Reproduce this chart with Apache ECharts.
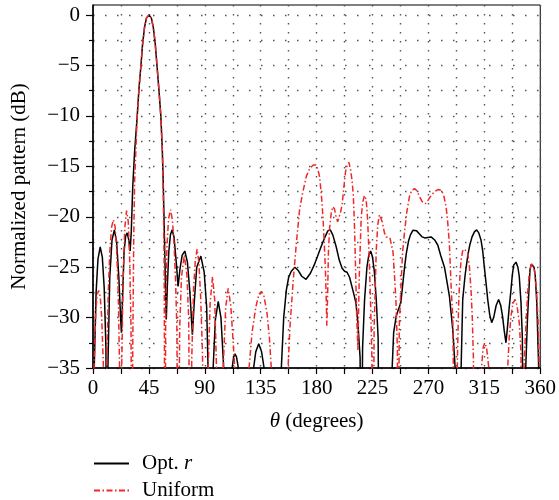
<!DOCTYPE html>
<html><head><meta charset="utf-8">
<script src="https://cdn.jsdelivr.net/npm/echarts@6/dist/echarts.min.js"></script>
<style>html,body{margin:0;padding:0;background:#fff}#c{width:559px;height:500px}</style>
</head><body><div id="c"></div>
<script>
// Tick positions / labels
const xTicks = [0, 45, 90, 135, 180, 225, 270, 315, 360];
const xGrid = [0, 22.5, 45, 67.5, 90, 112.5, 135, 157.5, 180, 202.5, 225, 247.5, 270, 292.5, 315, 337.5, 360];
const yTicks = [0, -5, -10, -15, -20, -25, -30, -35];
const yMinor = [-2.5, -7.5, -12.5, -17.5, -22.5, -27.5, -32.5];

const seriesNames = ['Opt. r', 'Uniform'];

// Opt. r pattern (theta in degrees, normalized dB)
const optTheta = [0,1.0,2.5,4,5.8,7.5,9,10.4,11.2,12.0,13.5,15.3,17.2,19,20.8,22.2,22.9,23.8,25,26.3,27.5,28.8,29.9,30.8,32,33.5,35.6,37,38.6,39.9,41.5,43,45,47,48.5,50,51.5,53,54.6,55.8,56.5,57.5,58.5,59.0,59.8,61,62.3,63.7,65.2,67,68.5,70,71.8,73.9,76,78,80,81.5,83.5,86.8,89.5,91.5,92.6,94.5,96.7,98.5,100.8,103,105.2,108.5,112,113.2,114.3,115.5,117,123,129.3,131,133.4,135.7,137.7,145,151.6,153.5,155.6,157.5,159.6,162.5,165,168,171.5,175,178,180.5,183.5,186.4,189,191,193,195.8,198.2,200.5,202.5,204.5,206.5,209.2,211.6,213.2,215,215.8,217,218.6,220.5,222,223.5,225,226.5,228,229.5,230.6,240.3,240.8,242,244,245.5,246.7,247.8,249.4,250.8,252.1,254,255.5,257.5,258.8,260.5,262.8,265,267,269.5,272.2,275,277.5,280,282.9,285,286.9,289.6,291.5,292.8,294.5,296.3,297.6,299.5,301.6,303.3,305.1,307,308.8,310.5,312.3,313.7,315,316.4,317.7,319.3,320.9,322.5,324.5,326.5,328.2,329.7,331,332.4,333.6,335,336.4,337.5,338.6,340.5,342,343.1,344.5,345.6,346.6,348.3,349.8,351.7,352.8,353.8,355,356,357.2,358.7,359.4,360];
const optDb = [-50,-35,-27.5,-24.2,-23.0,-24.0,-27,-33,-50,-35,-26,-22.3,-21.3,-22.5,-26,-30,-31.5,-28,-23.5,-21.9,-21.6,-22.3,-23.4,-21.5,-17,-13.5,-10,-7.3,-5,-2.9,-1.2,-0.3,0,-0.3,-1.2,-2.7,-5,-7.3,-10,-13.4,-16.4,-22,-28,-30.2,-27,-23.5,-21.8,-21.3,-22,-24.5,-26.9,-25.2,-23.8,-23.4,-24.5,-27.5,-31.7,-28.5,-25,-23.9,-25.5,-29,-35,-50,-35,-30.2,-28.4,-30,-35,-50,-35,-33.9,-33.6,-33.9,-35,-50,-35,-33.4,-32.6,-33.4,-35,-50,-35,-30,-27.3,-26,-25.4,-25.0,-25.3,-25.9,-26.2,-25.6,-24.8,-24,-23,-22.1,-21.4,-21.3,-21.8,-23,-24.3,-25.1,-25.4,-25.5,-26,-27.3,-28.5,-30.5,-34,-50,-33,-28.2,-25,-23.8,-23.4,-24,-25.5,-28.2,-32,-50,-50,-35,-31.5,-29.9,-29.3,-28.9,-28.5,-26.6,-25,-23.7,-22.4,-21.8,-21.35,-21.3,-21.4,-21.7,-22.0,-22.1,-22.05,-22.0,-22.3,-22.8,-23.9,-25,-26.5,-27.9,-31.2,-35,-50,-50,-35,-28.2,-25.8,-23.9,-22.8,-22,-21.5,-21.3,-21.6,-22.3,-23.4,-25,-26.6,-28.2,-29.7,-30.5,-30,-28.8,-28.2,-28.8,-29.9,-31.3,-32.5,-31,-29,-27.3,-25.8,-24.8,-24.5,-25,-25.9,-28.5,-32,-50,-35,-29.9,-25.3,-24.7,-24.6,-25,-25.9,-28.5,-34.8,-50,-50];

// Uniform pattern
const uniTheta = [0,0.8,2.2,3.3,4.5,5.8,7,8.4,10,11,12.3,13.5,15,16.4,17.8,19,20.3,21.4,22.3,23.1,24.2,25.5,27,28.4,29.6,30.6,31.2,32,32.8,33.5,35.6,37,38.6,39.9,41.5,43,45,47,48.5,50,51.5,53,54.6,55.8,56.6,57.3,57.9,58.5,59.5,60.8,62.4,63.9,65.3,66.5,67.5,68.5,69.8,71.2,73.5,75.6,77,78.3,79.5,81,82.4,83.8,85.2,86.6,88,90.5,92.7,94.3,96.2,98,99.4,101.5,104.8,106.8,108.8,110.9,112.6,114.1,120,125.6,128,131,133.5,135.5,137.5,140,142,143.5,150,157,158.5,161,163.7,166.3,168.8,171.7,174.5,177,179.6,181,182.4,183.8,185.1,186.1,187,187.7,188.2,188.8,189.5,190.5,191.8,193.1,194.3,195.5,196.9,198,199.2,200.5,202,203.3,204.6,206,207.3,208.5,209.5,210.5,211.3,212.3,213.2,214.3,215.9,217.2,218.5,219.9,221,222.3,223.5,224.5,225.3,226.3,228,229.2,230.6,231.4,232.8,234.6,236,237.3,239,240,241.5,243,243.8,245,245.6,246.5,248,249.2,250.7,252.5,254.7,256.5,258.8,260.5,262.8,265,267.6,270,272.2,275,278,280.7,282.5,284.2,285.5,286.9,288.3,289.6,291.5,293.5,294.4,295.5,296.3,297.5,298.9,300.2,301.6,303,304.3,305.3,306.2,307,312.7,314,315.3,316.8,318.6,326,333.8,335,336.4,338,339.7,341.3,343.1,344.5,345.3,346.8,348.8,350,351,352.4,353.8,355.3,357,358.3,359.2,360];
const uniDb = [-50,-35,-29.5,-27.8,-27.3,-27.9,-30,-35,-50,-35,-27.5,-23.5,-21,-20.3,-21,-23.2,-27.5,-35,-50,-35,-26.5,-21.2,-19.4,-20.5,-24.5,-31,-50,-33,-22,-16.5,-10,-7.3,-5,-2.9,-1.2,-0.3,0,-0.3,-1.2,-2.7,-5,-7.3,-10,-13.4,-18,-25,-50,-30,-23,-20.2,-19.3,-20.3,-22.8,-26.5,-31,-50,-31,-26,-23.8,-25.8,-30,-50,-34,-27,-24.3,-23.2,-24.5,-27.8,-33,-50,-35,-28.5,-25.95,-28.3,-35,-50,-35,-29,-27.1,-28.8,-32,-35,-50,-35,-31.5,-29,-27.7,-27.4,-27.8,-29.5,-32,-35,-50,-35,-31,-26.6,-22.6,-19.3,-17.6,-16,-15.2,-14.9,-14.85,-15.3,-16.05,-17.8,-20,-22.5,-25,-28,-30.8,-28,-23.5,-21,-19.6,-19,-19.2,-19.9,-20.5,-20.4,-19.6,-18.8,-17,-15.5,-14.9,-14.6,-15.3,-16.4,-17.8,-21,-25,-30,-33.2,-26,-20,-18.5,-17.9,-18.3,-20.2,-24,-29,-34,-50,-31,-23.3,-20.8,-19.8,-19.8,-20.5,-21.6,-22,-22.1,-22.1,-22.2,-23.5,-26.5,-28.2,-33,-50,-31,-26.6,-23.5,-21.6,-19.6,-18,-17.4,-17.2,-17.4,-18,-18.5,-18.7,-18.3,-17.9,-17.5,-17.3,-17.4,-18,-19,-20.5,-22.8,-27,-30,-50,-33,-28.3,-25.5,-24.3,-23.4,-23.2,-23.3,-23.6,-25,-27.3,-30,-34,-50,-35,-33,-32.5,-33,-35,-50,-35,-32,-29.9,-28.6,-28.2,-28.8,-30.5,-33.5,-50,-35,-29.9,-27.3,-25.9,-24.9,-24.6,-25.3,-27.3,-30.5,-35,-50];

const zip = (a, b) => a.map((v, i) => [v, b[i]]);
const FONT = 'Liberation Serif';
const FS = 21;
const fmtNum = v => (v < 0 ? '\u2212' + (-v) : String(v));

const chart = echarts.init(document.getElementById('c'), null, {renderer: 'canvas'});
chart.setOption({
  animation: false,
  backgroundColor: '#fff',
  grid: {left: 93, right: 18, top: 5, bottom: 132, show: true, borderColor: '#000', borderWidth: 1, backgroundColor: 'transparent'},
  legend: {
    orient: 'vertical', left: 93, bottom: -1, padding: 0,
    itemWidth: 35, itemHeight: 14, itemGap: 6,
    data: seriesNames,
    itemStyle: {opacity: 0},
    formatter: n => n === 'Opt. r' ? '{n|Opt. }{i|r}' : '{n|Uniform}',
    textStyle: {fontFamily: FONT, fontSize: FS, lineHeight: 18, color: '#000', padding: [0, 0, 0, 8],
      rich: {n: {fontFamily: FONT, fontSize: FS, lineHeight: 18, color: '#000'}, i: {fontFamily: FONT, fontSize: FS, lineHeight: 18, fontStyle: 'italic', color: '#000'}}}
  },
  xAxis: [{
    type: 'value', min: 0, max: 360, interval: 22.5, position: 'bottom',
    axisLine: {show: true, onZero: false, lineStyle: {color: '#000', width: 1.5}},
    axisTick: {show: true, inside: false, length: 6, customValues: xGrid, lineStyle: {color: '#000', width: 1.2}},
    axisLabel: {customValues: xTicks, margin: 10, fontFamily: FONT, fontSize: FS, color: '#000',
      formatter: v => (v % 45 === 0 ? String(v) : '')},
    splitLine: {show: true, lineStyle: {color: '#555', type: [1.5, 7.5], width: 1.4}},
    name: '{i|\u03b8} (degrees)', nameLocation: 'middle', nameGap: 43,
    nameTextStyle: {fontFamily: FONT, fontSize: FS, color: '#000',
      rich: {i: {fontFamily: FONT, fontSize: FS, fontStyle: 'italic', color: '#000'}}}
  }],
  yAxis: [{
    type: 'value', min: -35, max: 1, interval: 5, position: 'left',
    axisLine: {show: true, onZero: false, lineStyle: {color: '#000', width: 1.5}},
    axisTick: {show: true, inside: false, length: 7, customValues: yTicks, lineStyle: {color: '#000', width: 1.2}},
    axisLabel: {customValues: yTicks, margin: 13, fontFamily: FONT, fontSize: FS, color: '#000',
      formatter: v => (v % 5 === 0 && v <= 0 ? fmtNum(v) : '')},
    splitLine: {show: true, lineStyle: {color: '#555', type: [1.5, 10.5], width: 1.4}},
    name: 'Normalized pattern (dB)', nameLocation: 'middle', nameGap: 63, nameRotate: 90,
    nameTextStyle: {fontFamily: FONT, fontSize: FS, color: '#000'}
  }, {
    type: 'value', min: -35, max: 1, interval: 2.5, position: 'left',
    axisLine: {show: false},
    axisTick: {show: true, inside: false, length: 4, customValues: yMinor, lineStyle: {color: '#000', width: 1.2}},
    axisLabel: {show: false},
    splitLine: {show: true, lineStyle: {color: '#555', type: [1.5, 10.5], width: 1.4}}
  }],
  series: [{
    name: seriesNames[0], type: 'line', data: zip(optTheta, optDb), xAxisIndex: 0, yAxisIndex: 0,
    symbol: 'none', showSymbol: false, clip: true,
    lineStyle: {color: '#000', width: 1.5}, itemStyle: {color: '#000', opacity: 0}
  }, {
    name: seriesNames[1], type: 'line', data: zip(uniTheta, uniDb), xAxisIndex: 0, yAxisIndex: 0,
    symbol: 'none', showSymbol: false, clip: true,
    lineStyle: {color: '#f02828', width: 1.5, type: [6, 2.5, 1.5, 2.5]}, itemStyle: {color: '#f02828', opacity: 0}
  }]
});
</script>
</body></html>
